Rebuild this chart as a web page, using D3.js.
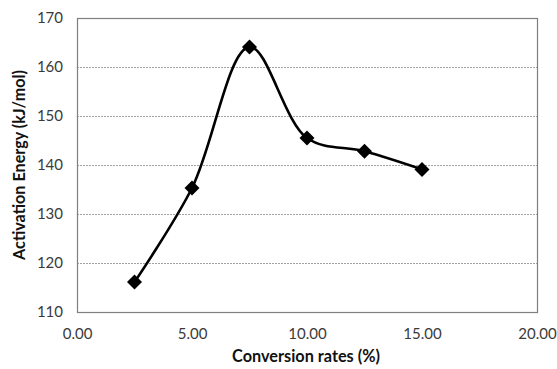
<!DOCTYPE html>
<html>
<head>
<meta charset="utf-8">
<script src="https://cdn.jsdelivr.net/npm/d3@7"></script>
<style>
  html, body { margin: 0; padding: 0; background: #fff; }
  svg { display: block; font-family: Lato, "Open Sans", "Liberation Sans", sans-serif; }
</style>
</head>
<body>
<svg id="chart" width="557" height="369"></svg>
<script>
// Activation energy at each conversion rate
const conversion = [2.5, 5.0, 7.5, 10.0, 12.5, 15.0];
const energy = [116.1, 135.3, 164.1, 145.5, 142.8, 139.1];
const xTicks = [0, 5, 10, 15, 20];
const yTicks = [110, 120, 130, 140, 150, 160, 170];

const svg = d3.select("#chart");
const m = { left: 77, right: 20, top: 18, bottom: 57 };
const W = 557, H = 369;

const x = d3.scaleLinear().domain([0, 20]).range([m.left, W - m.right]);
const y = d3.scaleLinear().domain([110, 170]).range([H - m.bottom, m.top]);

// scale a label's font so that it spans the given width
function fitText(sel, width) {
  const fs = parseFloat(sel.attr("font-size"));
  const len = sel.node().getComputedTextLength();
  if (len > 0) sel.attr("font-size", fs * width / len);
}

// horizontal gridlines
svg.append("g")
  .selectAll("line")
  .data(yTicks.filter(t => t > 110 && t < 170))
  .join("line")
  .attr("x1", x(0)).attr("x2", x(20))
  .attr("y1", d => y(d) + 0.5).attr("y2", d => y(d) + 0.5)
  .attr("stroke", "#8c8c8c")
  .attr("stroke-width", 0.8)
  .attr("stroke-dasharray", "2,1");

// plot frame
svg.append("rect")
  .attr("x", x(0) + 0.5).attr("y", y(170) + 0.5)
  .attr("width", x(20) - x(0)).attr("height", y(110) - y(170))
  .attr("fill", "none")
  .attr("stroke", "#7f7f7f")
  .attr("stroke-width", 1.2);

// y axis labels
const yAxis = d3.axisLeft(y).tickValues(yTicks).tickSize(0).tickPadding(14).tickFormat(d3.format("d"));
svg.append("g")
  .attr("transform", `translate(${x(0)},0)`)
  .call(yAxis)
  .call(g => g.select(".domain").remove())
  .selectAll("text")
  .attr("font-size", 15)
  .attr("fill", "#3a3a3a")
  .attr("font-family", "Lato, 'Open Sans', sans-serif");

// x axis labels
const xAxis = d3.axisBottom(x).tickValues(xTicks).tickSize(0).tickPadding(16).tickFormat(d3.format(".2f"));
svg.append("g")
  .attr("transform", `translate(0,${y(110)})`)
  .call(xAxis)
  .call(g => g.select(".domain").remove())
  .selectAll("text")
  .attr("font-size", 15)
  .attr("fill", "#3a3a3a")
  .attr("font-family", "Lato, 'Open Sans', sans-serif");

// smoothed series line
const pts = conversion.map((c, i) => [c, energy[i]]);
svg.append("path")
  .datum(pts)
  .attr("fill", "none")
  .attr("stroke", "#000")
  .attr("stroke-width", 2.6)
  .attr("d", d3.line().x(d => x(d[0])).y(d => y(d[1])).curve(d3.curveCatmullRom.alpha(0.5)));

// diamond markers
svg.append("g")
  .selectAll("path")
  .data(pts)
  .join("path")
  .attr("transform", d => `translate(${x(d[0])},${y(d[1])})`)
  .attr("d", "M0,-7.5L7.5,0L0,7.5L-7.5,0Z")
  .attr("fill", "#000");

// axis titles
const xTitle = svg.append("text")
  .attr("x", 306)
  .attr("y", 362)
  .attr("text-anchor", "middle")
  .attr("font-weight", "bold")
  .attr("font-size", 14)
  .attr("fill", "#111")
  .text("Conversion rates (%)");
fitText(xTitle, 148);

const yTitle = svg.append("text")
  .attr("transform", `translate(25,165) rotate(-90)`)
  .attr("text-anchor", "middle")
  .attr("font-weight", "bold")
  .attr("font-size", 14)
  .attr("fill", "#111")
  .text("Activation Energy (kJ/mol)");
fitText(yTitle, 190);
</script>
</body>
</html>
